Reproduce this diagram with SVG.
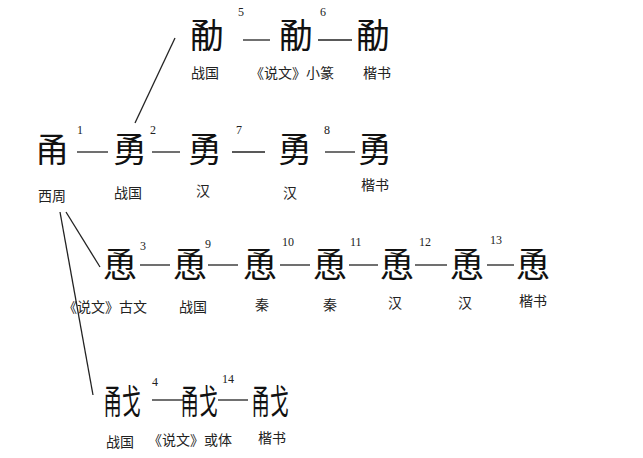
<svg xmlns="http://www.w3.org/2000/svg" width="643" height="458" viewBox="0 0 643 458">
<style>
.g{font-family:"Noto Sans CJK SC","Noto Sans CJK TC",sans-serif;font-size:34px;fill:#111;text-anchor:middle}
.l{font-family:"Noto Sans CJK SC",sans-serif;font-size:14px;fill:#222;text-anchor:middle}
.n{font-family:"Liberation Serif",serif;font-size:12px;fill:#222}
.c line{stroke:#222;stroke-width:1.3}
</style>
<rect width="643" height="458" fill="#fff"/>
<g class="c">
<line x1="135" y1="123" x2="175" y2="38"/>
<line x1="66" y1="212" x2="100" y2="267"/>
<line x1="60" y1="212" x2="93" y2="395"/>
<line x1="243" y1="40" x2="270" y2="40"/><line x1="318" y1="40" x2="352" y2="40"/>
<line x1="77" y1="152" x2="108" y2="152"/><line x1="152" y1="152" x2="180" y2="152"/><line x1="232" y1="152" x2="265" y2="152"/><line x1="325" y1="152" x2="355" y2="152"/>
<line x1="140" y1="265" x2="170" y2="265"/><line x1="208" y1="265" x2="238" y2="265"/><line x1="280" y1="265" x2="310" y2="265"/><line x1="349" y1="265" x2="378" y2="265"/><line x1="415" y1="265" x2="447" y2="265"/><line x1="487" y1="265" x2="514" y2="265"/>
<line x1="152" y1="400" x2="183" y2="400"/><line x1="218" y1="400" x2="248" y2="400"/>
</g>
<g id="row1">
<text class="g" x="207" y="48">勈</text><text class="g" x="296" y="48">勈</text><text class="g" x="373" y="48">勈</text>
<text class="n" x="238" y="16">5</text><text class="n" x="320" y="16">6</text>
<text class="l" x="205" y="78">战国</text><text class="l" x="292" y="78">《说文》小篆</text><text class="l" x="377" y="78">楷书</text>
</g>
<g id="row2">
<text class="g" x="52" y="162">甬</text><text class="g" x="130" y="162">勇</text><text class="g" x="205" y="162">勇</text><text class="g" x="295" y="162">勇</text><text class="g" x="375" y="162">勇</text>
<text class="n" x="77" y="134">1</text><text class="n" x="150" y="134">2</text><text class="n" x="236" y="134">7</text><text class="n" x="324" y="134">8</text>
<text class="l" x="52" y="201">西周</text><text class="l" x="128" y="198">战国</text><text class="l" x="203" y="196">汉</text><text class="l" x="290" y="198">汉</text><text class="l" x="375" y="190">楷书</text>
</g>
<g id="row3">
<text class="g" x="120" y="277">恿</text><text class="g" x="190" y="277">恿</text><text class="g" x="260" y="277">恿</text><text class="g" x="330" y="277">恿</text><text class="g" x="397" y="277">恿</text><text class="g" x="467" y="277">恿</text><text class="g" x="533" y="277">恿</text>
<text class="n" x="140" y="250">3</text><text class="n" x="205" y="248">9</text><text class="n" x="282" y="246">10</text><text class="n" x="350" y="246">11</text><text class="n" x="419" y="246">12</text><text class="n" x="490" y="244">13</text>
<text class="l" x="105" y="312">《说文》古文</text><text class="l" x="193" y="312">战国</text><text class="l" x="262" y="310">秦</text><text class="l" x="330" y="310">秦</text><text class="l" x="395" y="308">汉</text><text class="l" x="465" y="308">汉</text><text class="l" x="533" y="306">楷书</text>
</g>
<g id="row4">
<text class="g" transform="translate(122,414) scale(0.55,1)" x="0" y="0">甬戈</text>
<text class="g" transform="translate(199,414) scale(0.55,1)" x="0" y="0">甬戈</text>
<text class="g" transform="translate(270,414) scale(0.55,1)" x="0" y="0">甬戈</text>
<text class="n" x="152" y="386">4</text><text class="n" x="222" y="383">14</text>
<text class="l" x="120" y="447">战国</text><text class="l" x="190" y="445">《说文》或体</text><text class="l" x="272" y="443">楷书</text>
</g>
</svg>
